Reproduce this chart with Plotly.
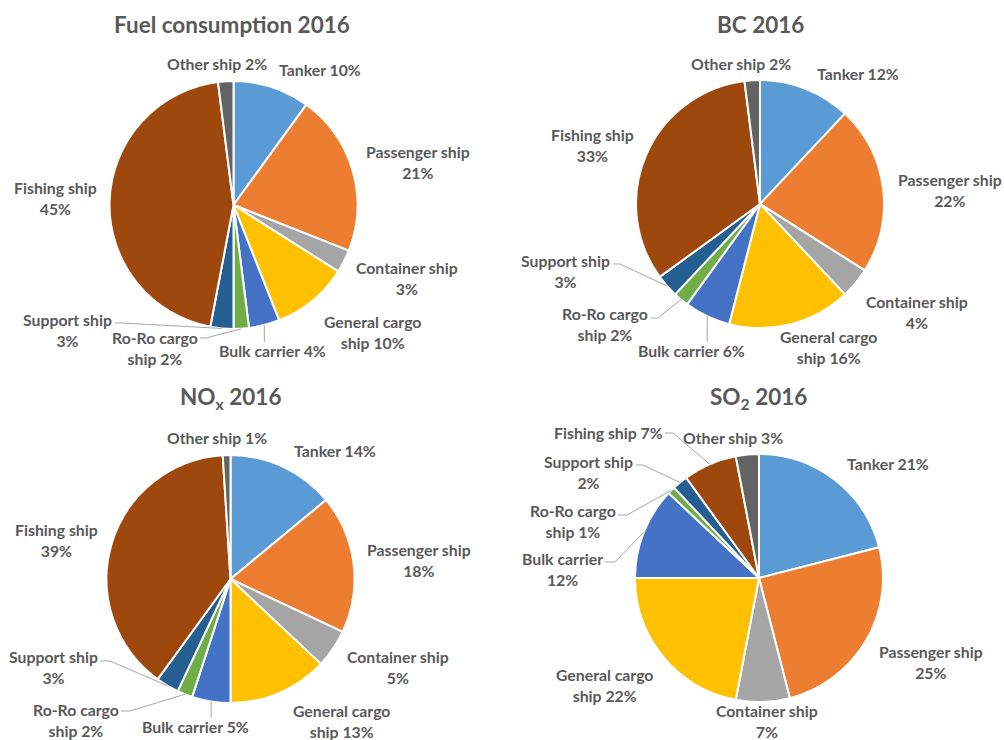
import math
import plotly.graph_objects as go

# ---------------- data ----------------
categories = ["Tanker", "Passenger ship", "Container ship", "General cargo ship",
              "Bulk carrier", "Ro-Ro cargo ship", "Support ship", "Fishing ship", "Other ship"]
fuel_2016 = [10, 21, 3, 10, 4, 2, 3, 45, 2]
bc_2016 = [12, 22, 4, 16, 6, 2, 3, 33, 2]
nox_2016 = [14, 18, 5, 13, 5, 2, 3, 39, 1]
so2_2016 = [21, 25, 7, 22, 12, 1, 2, 7, 3]
titles = ["Fuel consumption 2016", "BC 2016", "NO<sub>x</sub> 2016", "SO<sub>2</sub> 2016"]

colors = ["#5B9BD5", "#ED7D31", "#A5A5A5", "#FFC000", "#4472C4",
          "#70AD47", "#255E91", "#9E480E", "#636363"]

# ---------------- layout constants ----------------
W, H = 1004, 740
R = 124
TEXT = "#595959"
LEADER = "#A6A6A6"
FONT = "Lato"
LABEL_SIZE = 15.8
TITLE_SIZE = 22.5

# pie centre (px), title position (px)
panels = [
    dict(values=fuel_2016, center=(233.5, 205), title=(232, 25)),
    dict(values=bc_2016, center=(760, 204), title=(760, 25)),
    dict(values=nox_2016, center=(230.5, 579), title=(230, 398)),
    dict(values=so2_2016, center=(759, 578), title=(758, 398)),
]

# label placement per panel: category -> (x px, y px, words on first line or None, leader points)
label_layout = [
    {
        "Tanker": (320, 69, None, None),
        "Passenger ship": (418, 162, 2, None),
        "Container ship": (407, 278, 2, None),
        "General cargo ship": (372, 332, 2, None),
        "Bulk carrier": (272, 350, None, [(None, 342)]),
        "Ro-Ro cargo ship": (155, 348, 2, [(200, 338), (206, 338)]),
        "Support ship": (67, 330, 2, [(115, 323), (122, 323)]),
        "Fishing ship": (55, 198, 2, None),
        "Other ship": (217, 63, None, None),
    },
    {
        "Tanker": (858, 73, None, None),
        "Passenger ship": (950, 190, 2, None),
        "Container ship": (917, 312, 2, None),
        "General cargo ship": (828, 347, 2, None),
        "Bulk carrier": (691, 351, None, [(None, 342)]),
        "Ro-Ro cargo ship": (605, 324, 2, [(651, 318), (658, 318)]),
        "Support ship": (565, 271, 2, [(613, 264), (620, 264)]),
        "Fishing ship": (592, 145, 2, None),
        "Other ship": (741, 63, None, None),
    },
    {
        "Tanker": (335, 450, None, None),
        "Passenger ship": (419, 560, 2, None),
        "Container ship": (398, 667, 2, None),
        "General cargo ship": (341, 721, 2, None),
        "Bulk carrier": (195, 726, None, [(None, 718)]),
        "Ro-Ro cargo ship": (76, 720, 2, [(121, 711), (130, 711)]),
        "Support ship": (53, 667, 2, [(100, 661), (110, 661)]),
        "Fishing ship": (56, 540, 2, None),
        "Other ship": (217, 438, None, None),
    },
    {
        "Tanker": (888, 463, None, None),
        "Passenger ship": (931, 662, 2, None),
        "Container ship": (767, 721, 2, None),
        "General cargo ship": (604, 685, 2, None),
        "Bulk carrier": (562, 569, 2, [(605, 562), (615, 562)]),
        "Ro-Ro cargo ship": (573, 521, 2, [(618, 515), (627, 515)]),
        "Support ship": (588, 472, 2, [(636, 465), (643, 465)]),
        "Fishing ship": (608, 432, None, [(665, 433), (673, 433)]),
        "Other ship": (733, 438, None, None),
    },
]


def px(x, y):
    return x / W, 1 - y / H


def label_text(name, value, first):
    words = name.split(" ")
    if first is None:
        return f"{name} {value}%"
    return " ".join(words[:first]) + "<br>" + " ".join(words[first:] + [f"{value}%"]).strip()


fig = go.Figure()
annotations = []
shapes = []

for panel, lay in zip(panels, label_layout):
    cx, cy = panel["center"]
    vals = panel["values"]
    x0, y1 = px(cx - R, cy - R)
    x1, y0 = px(cx + R, cy + R)
    fig.add_trace(go.Pie(
        labels=categories, values=vals, sort=False, direction="clockwise", rotation=0,
        marker=dict(colors=colors, line=dict(color="white", width=2)),
        textinfo="none", hoverinfo="label+percent",
        domain=dict(x=[x0, x1], y=[y0, y1]), showlegend=False,
    ))
    total = sum(vals)
    cum = 0
    for name, v in zip(categories, vals):
        mid = (cum + v / 2) / total * 2 * math.pi
        cum += v
        sx = cx + R * math.sin(mid)
        sy = cy - R * math.cos(mid)
        lx, ly, first, leader = lay[name]
        ax, ay = px(lx, ly)
        annotations.append(dict(
            x=ax, y=ay, xref="paper", yref="paper", xanchor="center", yanchor="middle",
            text="<b>" + label_text(name, v, first) + "</b>", showarrow=False, align="center",
            font=dict(family=FONT, size=LABEL_SIZE, color=TEXT),
        ))
        if leader:
            pts = [(sx if p[0] is None else p[0], p[1]) for p in leader] + [(sx, sy)]
            path = ""
            for i, (qx, qy) in enumerate(pts):
                u, w = px(qx, qy)
                path += ("M" if i == 0 else " L") + f" {u:.5f} {w:.5f}"
            shapes.append(dict(type="path", xref="paper", yref="paper", path=path,
                               line=dict(color=LEADER, width=1)))

for panel, t in zip(panels, titles):
    tx, ty = px(*panel["title"])
    annotations.append(dict(
        x=tx, y=ty, xref="paper", yref="paper", xanchor="center", yanchor="middle",
        text="<b>" + t + "</b>", showarrow=False,
        font=dict(family=FONT, size=TITLE_SIZE, color=TEXT),
    ))

fig.update_layout(
    width=W, height=H, margin=dict(l=0, r=0, t=0, b=0),
    paper_bgcolor="white", plot_bgcolor="white",
    annotations=annotations, shapes=shapes, showlegend=False,
)

fig.write_html(
    "out.html",
    config={"displayModeBar": False},
    post_script="document.body.style.margin='0';document.body.style.overflow='hidden';",
)
